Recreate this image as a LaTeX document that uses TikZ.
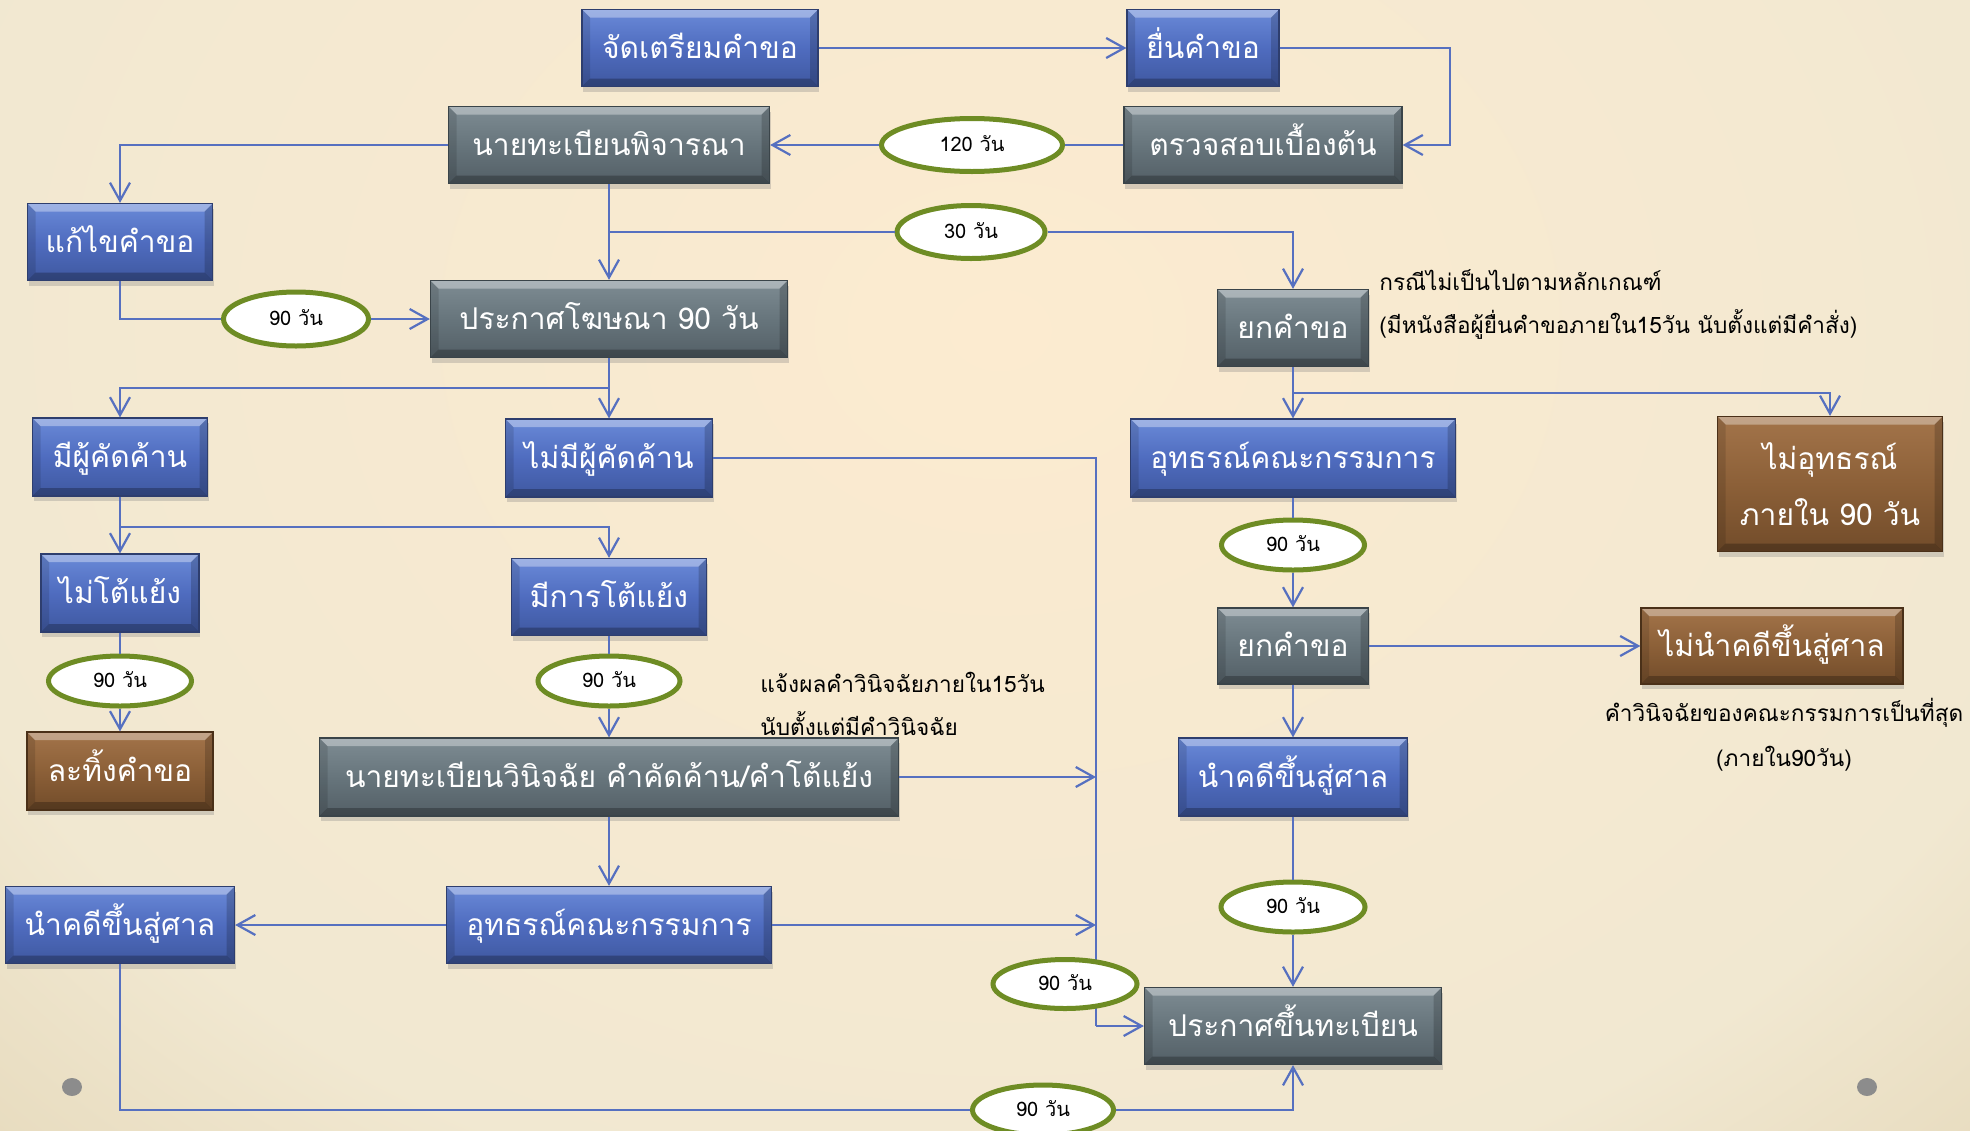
\documentclass[tikz,border=0pt]{standalone}
\usepackage{fontspec}
\setmainfont[Script=Thai]{Loma}
\usetikzlibrary{arrows.meta,shapes.geometric,shadows}

\definecolor{linkblue}{HTML}{5670C0}
\definecolor{dayring}{HTML}{6E8C24}
\definecolor{blueT}{HTML}{6A8AD8}
\definecolor{blueM}{HTML}{4F6CBF}
\definecolor{blueB}{HTML}{3F58A0}
\definecolor{blueD}{HTML}{2E3E6E}
\definecolor{grayT}{HTML}{7E8C93}
\definecolor{grayM}{HTML}{67757C}
\definecolor{grayB}{HTML}{535F66}
\definecolor{grayD}{HTML}{3A4449}
\definecolor{brownT}{HTML}{A3744A}
\definecolor{brownM}{HTML}{8C6038}
\definecolor{brownB}{HTML}{724C2A}
\definecolor{brownD}{HTML}{4A3018}
\definecolor{bgin}{HTML}{FCEBD0}
\definecolor{bgmid}{HTML}{F1E8D1}
\definecolor{bgout}{HTML}{D6C59E}
\definecolor{dotgray}{HTML}{8C8C8C}

\pgfdeclareradialshading{paper}{\pgfpoint{0bp}{0bp}}{color(0bp)=(bgin); color(14bp)=(bgmid); color(25bp)=(bgout); color(50bp)=(bgout)}

\tikzset{>={Straight Barb[length=9pt,width=10pt]}}
\tikzset{
  bevel/.style={path picture={
    \fill[white,opacity=0.35] (path picture bounding box.north west) -- (path picture bounding box.north east)
      -- ([shift={(-4pt,-4pt)}]path picture bounding box.north east) -- ([shift={(4pt,-4pt)}]path picture bounding box.north west) -- cycle;
    \fill[black,opacity=0.25] (path picture bounding box.south west) -- (path picture bounding box.south east)
      -- ([shift={(-4pt,4pt)}]path picture bounding box.south east) -- ([shift={(4pt,4pt)}]path picture bounding box.south west) -- cycle;
    \fill[black,opacity=0.12] (path picture bounding box.north west) -- ([shift={(4pt,-4pt)}]path picture bounding box.north west)
      -- ([shift={(4pt,4pt)}]path picture bounding box.south west) -- (path picture bounding box.south west) -- cycle;
    \fill[black,opacity=0.18] (path picture bounding box.north east) -- ([shift={(-4pt,-4pt)}]path picture bounding box.north east)
      -- ([shift={(-4pt,4pt)}]path picture bounding box.south east) -- (path picture bounding box.south east) -- cycle;
  }},
  flowbox/.style={rectangle, inner sep=0pt, text=white, line width=0.6pt,
    font=\fontsize{15pt}{18pt}\selectfont, text height=13pt, text depth=3pt, bevel,
    drop shadow={shadow xshift=0.5pt, shadow yshift=-2.5pt, opacity=0.3}},
  bluebox/.style={flowbox, draw=blueD, top color=blueT, bottom color=blueB, middle color=blueM},
  graybox/.style={flowbox, draw=grayD, top color=grayT, bottom color=grayB, middle color=grayM},
  brownbox/.style={flowbox, draw=brownD, top color=brownT, bottom color=brownB, middle color=brownM},
  wh/.style 2 args={minimum width=#1*0.5pt, minimum height=#2*0.5pt},
  days/.style={ellipse, draw=dayring, line width=2.5pt, fill=white, inner sep=0pt,
    font=\fontsize{10pt}{12pt}\selectfont, text height=8.5pt, text depth=2.5pt},
  remark/.style={font=\fontsize{11.3pt}{14pt}\selectfont, text=black, inner sep=0pt},
  link/.style={draw=linkblue, line width=1.1pt}
}

\begin{document}
\begin{tikzpicture}[x=0.5pt, y=-0.5pt]

  \newcommand\colL{120}
  \newcommand\colM{609}
  \newcommand\colR{1293}
  \newcommand\busX{1096}

  %% paper
  \useasboundingbox (0,0) rectangle (1970,1130);
  \begin{scope}
    \clip (0,0) rectangle (1970,1130);
    \shade[shading=paper] (1000,330) ellipse (2000 and 1600);
  \end{scope}
  \fill[dotgray] (72,1087) ellipse (10 and 9);
  \fill[dotgray] (1867,1087) ellipse (10 and 9);

  %% boxes
  \node[bluebox, wh={236}{77}] (prep) at (700,48) {จัดเตรียมคำขอ};
  \node[bluebox, wh={152}{77}] (submit) at (1203,48) {ยื่นคำขอ};
  \node[graybox, wh={321}{77}] (consider) at (\colM,145) {นายทะเบียนพิจารณา};
  \node[graybox, wh={278}{77}] (check) at (1263,145) {ตรวจสอบเบื้องต้น};
  \node[bluebox, wh={185}{77}] (amend) at (\colL,242) {แก้ไขคำขอ};
  \node[graybox, wh={357}{77}] (publish) at (\colM,319) {ประกาศโฆษณา 90 วัน};
  \node[graybox, wh={151}{77}] (reject1) at (\colR,328) {ยกคำขอ};
  \node[bluebox, wh={175}{78}] (objyes) at (\colL,457) {มีผู้คัดค้าน};
  \node[bluebox, wh={207}{78}] (objno) at (\colM,458) {ไม่มีผู้คัดค้าน};
  \node[bluebox, wh={325}{78}] (appealR) at (\colR,458) {อุทธรณ์คณะกรรมการ};
  \node[brownbox, wh={225}{135}, align=center, text height=, text depth=,
    font=\fontsize{15pt}{28pt}\selectfont] (noappeal) at (1830,484) {ไม่อุทธรณ์\\ภายใน 90 วัน};
  \node[bluebox, wh={158}{78}] (argno) at (\colL,593) {ไม่โต้แย้ง};
  \node[bluebox, wh={195}{77}] (argyes) at (\colM,597) {มีการโต้แย้ง};
  \node[graybox, wh={151}{76}] (reject2) at (\colR,646) {ยกคำขอ};
  \node[brownbox, wh={262}{76}] (nocourt) at (1772,646) {ไม่นำคดีขึ้นสู่ศาล};
  \node[brownbox, wh={186}{78}] (abandon) at (\colL,771) {ละทิ้งคำขอ};
  \node[graybox, wh={579}{78}] (decide) at (\colM,777) {นายทะเบียนวินิจฉัย คำคัดค้าน/คำโต้แย้ง};
  \node[bluebox, wh={229}{78}] (courtR) at (\colR,777) {นำคดีขึ้นสู่ศาล};
  \node[bluebox, wh={229}{77}] (courtL) at (\colL,925) {นำคดีขึ้นสู่ศาล};
  \node[bluebox, wh={325}{77}] (appealC) at (\colM,925) {อุทธรณ์คณะกรรมการ};
  \node[graybox, wh={297}{77}] (register) at (\colR,1026) {ประกาศขึ้นทะเบียน};

  %% remarks
  \node[remark, anchor=west] (note1a) at (1379,280) {กรณีไม่เป็นไปตามหลักเกณฑ์};
  \node[remark, anchor=west] (note1b) at (1379,324) {(มีหนังสือผู้ยื่นคำขอภายใน15วัน นับตั้งแต่มีคำสั่ง)};
  \node[remark, anchor=west] (note2a) at (760,682) {แจ้งผลคำวินิจฉัยภายใน15วัน};
  \node[remark, anchor=west] (note2b) at (760,724) {นับตั้งแต่มีคำวินิจฉัย};
  \node[remark] (note3a) at (1784,713) {คำวินิจฉัยของคณะกรรมการเป็นที่สุด};
  \node[remark] (note3b) at (1784,759) {(ภายใน90วัน)};

  %% time limits
  \node[days, wh={181}{53}] (d120) at (972,145) {120 วัน};
  \node[days, wh={148}{53}] (d30) at (971,232) {30 วัน};
  \node[days, wh={145}{54}] (d90a) at (296,319) {90 วัน};
  \node[days, wh={143}{50}] (d90b) at (\colL,681) {90 วัน};
  \node[days, wh={142}{50}] (d90c) at (\colM,681) {90 วัน};
  \node[days, wh={143}{50}] (d90d) at (\colR,545) {90 วัน};
  \node[days, wh={144}{50}] (d90e) at (\colR,907) {90 วัน};
  \node[days, wh={141}{50}] (d90g) at (1043,1110) {90 วัน};

  %% branch points
  \coordinate (loopR) at (1450,48);
  \coordinate (split30) at (\colM,232);
  \coordinate (splitObj) at (\colM,388);
  \coordinate (splitArg) at (\colL,527);
  \coordinate (splitApp) at (\colR,393);
  \coordinate (busT) at (\busX,458);
  \coordinate (busB) at (\busX,1026);

  %% no objection: straight to registration
  \draw[link] (objno.east) -- (busT) -- (busB);
  \draw[link,->] (busB) -- (register.west);
  \node[days, wh={144}{49}] (d90f) at (1065,984) {90 วัน};

  %% filing
  \draw[link,->] (prep) -- (submit);
  \draw[link,->] (submit.east) -- (loopR) |- (check.east);
  \draw[link] (check.west) -- (d120.east);
  \draw[link,->] (d120.west) -- (consider.east);
  \draw[link,->] (consider.west) -| (amend.north);
  \draw[link,->] (consider.south) -- (publish.north);
  \draw[link] (split30) -- (d30.west);
  \draw[link,->] (d30.east) -| (reject1.north);
  \draw[link] (amend.south) |- (d90a.west);
  \draw[link,->] (d90a.east) -- (publish.west);

  %% opposition
  \draw[link] (publish.south) -- (splitObj);
  \draw[link,->] (splitObj) -| (objyes.north);
  \draw[link,->] (splitObj) -- (objno.north);
  \draw[link] (objyes.south) -- (splitArg);
  \draw[link,->] (splitArg) -- (argno.north);
  \draw[link,->] (splitArg) -| (argyes.north);
  \draw[link] (argno.south) -- (d90b.north);
  \draw[link,->] (d90b.south) -- (abandon.north);
  \draw[link] (argyes.south) -- (d90c.north);
  \draw[link,->] (d90c.south) -- (decide.north);
  \draw[link,->] (decide.east) -- (decide.east -| busT);
  \draw[link,->] (decide.south) -- (appealC.north);
  \draw[link,->] (appealC.west) -- (courtL.east);
  \draw[link,->] (appealC.east) -- (appealC.east -| busT);
  \draw[link] (courtL.south) |- (d90g.west);
  \draw[link,->] (d90g.east) -| (register.south);

  %% refusal
  \draw[link] (reject1.south) -- (splitApp);
  \draw[link,->] (splitApp) -- (appealR.north);
  \draw[link,->] (splitApp) -| (noappeal.north);
  \draw[link] (appealR.south) -- (d90d.north);
  \draw[link,->] (d90d.south) -- (reject2.north);
  \draw[link,->] (reject2.east) -- (nocourt.west);
  \draw[link,->] (reject2.south) -- (courtR.north);
  \draw[link] (courtR.south) -- (d90e.north);
  \draw[link,->] (d90e.south) -- (register.north);

\end{tikzpicture}
\end{document}
